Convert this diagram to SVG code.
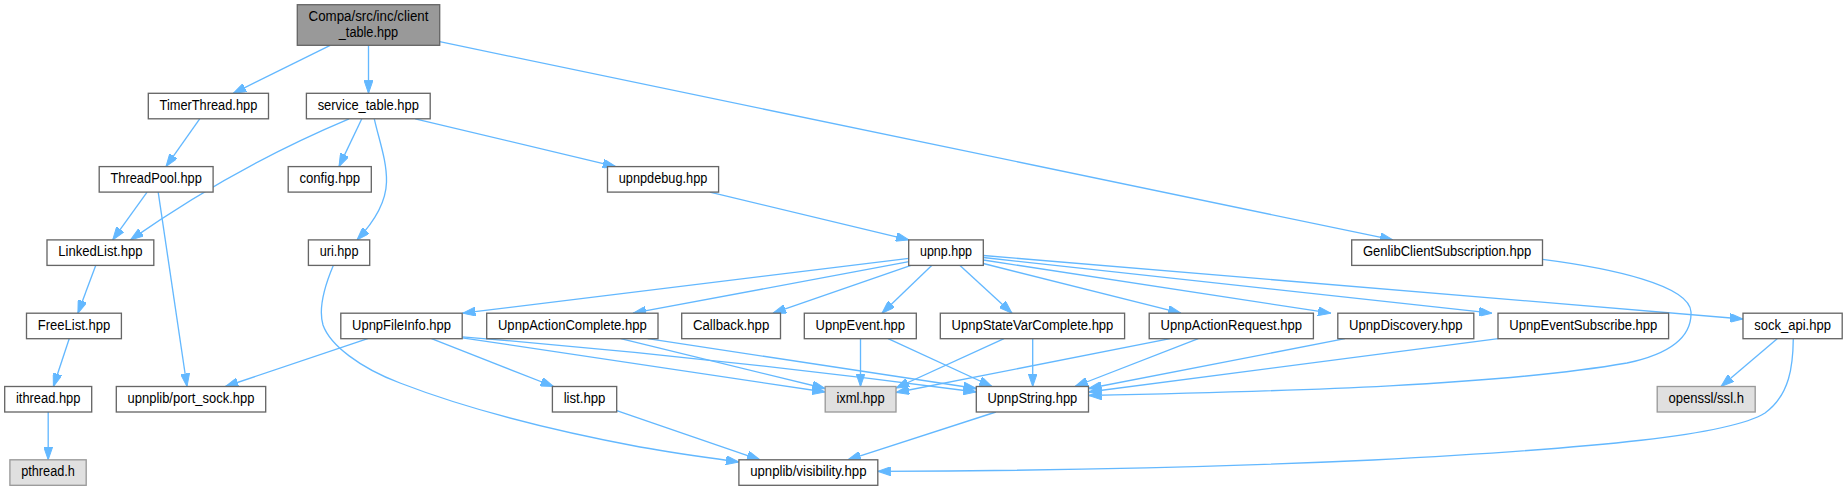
<svg xmlns="http://www.w3.org/2000/svg" width="1847" height="491" viewBox="0 0 1847 491">
<style>
.n rect{fill:#ffffff;stroke:#666666;stroke-width:1.33}
.n.root rect{fill:#999999;stroke:#666666}
.n.ext rect{fill:#e0e0e0;stroke:#999999}
.n text{font-family:"Liberation Sans",Arial,Helvetica,sans-serif;font-size:14px;fill:#000000;text-anchor:middle}
.e path{fill:none;stroke:#63b8ff;stroke-width:1.33;marker-end:url(#ah)}
</style>
<defs>
<marker id="ah" viewBox="0 0 13 9" refX="13" refY="4.5" markerWidth="13" markerHeight="9" markerUnits="userSpaceOnUse" orient="auto">
<path d="M0,0 L13,4.5 L0,9 z" fill="#63b8ff" stroke="#63b8ff" stroke-width="1"/>
</marker>
</defs>
<rect width="1847" height="491" fill="#ffffff"/>
<g id="edges" class="e">
<path d="M330.2,45.3 L233.3,93.3"/>
<path d="M368.5,45.3 L368.5,93.3"/>
<path d="M439.7,41.7 L1393,239.9"/>
<path d="M199.7,118.8 L166,166.6"/>
<path d="M147.1,192.1 L112.7,239.9"/>
<path d="M158.2,192.1 L187,386.5"/>
<path d="M349.1,118.8 Q234.2,167 130.5,239.9"/>
<path d="M361.8,118.8 L339,166.6"/>
<path d="M374.3,118.8 C379,140 387,161 386.5,182 C386,202 375,221 357,239.9"/>
<path d="M415.2,118.8 L615.8,166.6"/>
<path d="M709.9,192.1 L908.9,239.9"/>
<path d="M95.7,265.4 L77.9,313.2"/>
<path d="M69.2,338.7 L53.4,386.5"/>
<path d="M48.2,412 L48.2,459.8"/>
<path d="M333.3,265.4 C325,285 318,308 323,325 C330,345 360,368 400,383 C470,410 560,432 640,447 C680,454 710,458 738.9,462"/>
<path d="M908.9,258.3 L462.5,313.2"/>
<path d="M908.9,261.7 L633,313.2"/>
<path d="M911,265.4 L773,313.2"/>
<path d="M931.7,265.4 L882,313.2"/>
<path d="M960,265.4 L1012,313.2"/>
<path d="M983.3,263.5 L1181,313.2"/>
<path d="M983.3,260 L1331,313.2"/>
<path d="M983.3,257.5 L1492,313.2"/>
<path d="M983.3,255.5 L1742.9,319"/>
<path d="M1542.5,259.3 C1610,268 1690,285 1691,312 C1692,340 1665,355 1627,363 C1500,385 1300,391 1088.5,395.5"/>
<path d="M1777.2,338.7 L1721,386.5"/>
<path d="M1793.3,338.7 C1793,365 1790,395 1765,413 C1730,435 1600,448 1373,460 C1200,468 1000,471 877.8,471.3"/>
<path d="M367.7,338.7 L225.4,386.5"/>
<path d="M431.5,338.7 L553.5,386.5"/>
<path d="M462.3,337.8 L825.2,392"/>
<path d="M462.3,336.8 Q720,358 976.3,392"/>
<path d="M620.7,338.7 L825.2,388.5"/>
<path d="M647.7,338.7 L976.3,388.5"/>
<path d="M860.5,338.7 L860.5,386.5"/>
<path d="M888.1,338.7 L992,386.5"/>
<path d="M1004,338.7 L896,388"/>
<path d="M1032.7,338.7 L1032.7,386.5"/>
<path d="M1170,338.7 L896.2,392.5"/>
<path d="M1198.3,338.7 L1075,386.5"/>
<path d="M1345,338.7 L1088.5,388.5"/>
<path d="M1498.3,338.7 L1088.5,392"/>
<path d="M616.7,410.7 L760,459.8"/>
<path d="M995.9,412 L847.9,459.8"/>
</g>
<g id="node_root" class="n root"><rect x="297.3" y="4.7" width="142.4" height="40.6"/><text x="368.5" y="21" textLength="119.8" lengthAdjust="spacingAndGlyphs">Compa/src/inc/client</text><text x="368.5" y="36.5" textLength="59.4" lengthAdjust="spacingAndGlyphs">_table.hpp</text></g>
<g id="node_TimerThread" class="n"><rect x="148.3" y="93.3" width="120.2" height="25.5"/><text x="208.4" y="109.8" textLength="97.7" lengthAdjust="spacingAndGlyphs">TimerThread.hpp</text></g>
<g id="node_service_table" class="n"><rect x="306.4" y="93.3" width="123.8" height="25.5"/><text x="368.3" y="109.8" textLength="101.3" lengthAdjust="spacingAndGlyphs">service_table.hpp</text></g>
<g id="node_ThreadPool" class="n"><rect x="99.2" y="166.6" width="113.9" height="25.5"/><text x="156.15" y="183.1" textLength="91.4" lengthAdjust="spacingAndGlyphs">ThreadPool.hpp</text></g>
<g id="node_config" class="n"><rect x="288.2" y="166.6" width="83.1" height="25.5"/><text x="329.75" y="183.1" textLength="60.6" lengthAdjust="spacingAndGlyphs">config.hpp</text></g>
<g id="node_upnpdebug" class="n"><rect x="607.5" y="166.6" width="111.1" height="25.5"/><text x="663.05" y="183.1" textLength="88.6" lengthAdjust="spacingAndGlyphs">upnpdebug.hpp</text></g>
<g id="node_LinkedList" class="n"><rect x="47" y="239.9" width="106.8" height="25.5"/><text x="100.4" y="256.4" textLength="84.3" lengthAdjust="spacingAndGlyphs">LinkedList.hpp</text></g>
<g id="node_uri" class="n"><rect x="308.4" y="239.9" width="61.3" height="25.5"/><text x="339.05" y="256.4" textLength="38.8" lengthAdjust="spacingAndGlyphs">uri.hpp</text></g>
<g id="node_upnp" class="n"><rect x="908.7" y="239.9" width="74.6" height="25.5"/><text x="946" y="256.4" textLength="52.1" lengthAdjust="spacingAndGlyphs">upnp.hpp</text></g>
<g id="node_Genlib" class="n"><rect x="1351.7" y="239.9" width="190.8" height="25.5"/><text x="1447.1" y="256.4" textLength="168.3" lengthAdjust="spacingAndGlyphs">GenlibClientSubscription.hpp</text></g>
<g id="node_FreeList" class="n"><rect x="26.5" y="313.2" width="94.9" height="25.5"/><text x="73.95" y="329.7" textLength="72.4" lengthAdjust="spacingAndGlyphs">FreeList.hpp</text></g>
<g id="node_UpnpFileInfo" class="n"><rect x="340.8" y="313.2" width="121.4" height="25.5"/><text x="401.5" y="329.7" textLength="98.9" lengthAdjust="spacingAndGlyphs">UpnpFileInfo.hpp</text></g>
<g id="node_UpnpActionComplete" class="n"><rect x="486.7" y="313.2" width="171.3" height="25.5"/><text x="572.35" y="329.7" textLength="148.8" lengthAdjust="spacingAndGlyphs">UpnpActionComplete.hpp</text></g>
<g id="node_Callback" class="n"><rect x="681.7" y="313.2" width="98.8" height="25.5"/><text x="731.1" y="329.7" textLength="76.3" lengthAdjust="spacingAndGlyphs">Callback.hpp</text></g>
<g id="node_UpnpEvent" class="n"><rect x="804.3" y="313.2" width="112" height="25.5"/><text x="860.3" y="329.7" textLength="89.5" lengthAdjust="spacingAndGlyphs">UpnpEvent.hpp</text></g>
<g id="node_UpnpStateVarComplete" class="n"><rect x="940.3" y="313.2" width="184.3" height="25.5"/><text x="1032.45" y="329.7" textLength="161.8" lengthAdjust="spacingAndGlyphs">UpnpStateVarComplete.hpp</text></g>
<g id="node_UpnpActionRequest" class="n"><rect x="1149.2" y="313.2" width="164.2" height="25.5"/><text x="1231.3" y="329.7" textLength="141.7" lengthAdjust="spacingAndGlyphs">UpnpActionRequest.hpp</text></g>
<g id="node_UpnpDiscovery" class="n"><rect x="1337.8" y="313.2" width="136" height="25.5"/><text x="1405.8" y="329.7" textLength="113.5" lengthAdjust="spacingAndGlyphs">UpnpDiscovery.hpp</text></g>
<g id="node_UpnpEventSubscribe" class="n"><rect x="1498" y="313.2" width="170.6" height="25.5"/><text x="1583.3" y="329.7" textLength="148.1" lengthAdjust="spacingAndGlyphs">UpnpEventSubscribe.hpp</text></g>
<g id="node_sock_api" class="n"><rect x="1743" y="313.2" width="99.2" height="25.5"/><text x="1792.6" y="329.7" textLength="76.7" lengthAdjust="spacingAndGlyphs">sock_api.hpp</text></g>
<g id="node_ithread" class="n"><rect x="4.7" y="386.5" width="87" height="25.5"/><text x="48.2" y="403" textLength="64.5" lengthAdjust="spacingAndGlyphs">ithread.hpp</text></g>
<g id="node_port_sock" class="n"><rect x="116.3" y="386.5" width="149.4" height="25.5"/><text x="191" y="403" textLength="126.9" lengthAdjust="spacingAndGlyphs">upnplib/port_sock.hpp</text></g>
<g id="node_list" class="n"><rect x="552.4" y="386.5" width="64.3" height="25.5"/><text x="584.55" y="403" textLength="41.8" lengthAdjust="spacingAndGlyphs">list.hpp</text></g>
<g id="node_ixml" class="n ext"><rect x="825.2" y="386.5" width="70.8" height="25.5"/><text x="860.6" y="403" textLength="48.3" lengthAdjust="spacingAndGlyphs">ixml.hpp</text></g>
<g id="node_UpnpString" class="n"><rect x="976.3" y="386.5" width="112.2" height="25.5"/><text x="1032.4" y="403" textLength="89.7" lengthAdjust="spacingAndGlyphs">UpnpString.hpp</text></g>
<g id="node_openssl" class="n ext"><rect x="1657.2" y="386.5" width="98" height="25.5"/><text x="1706.2" y="403" textLength="75.5" lengthAdjust="spacingAndGlyphs">openssl/ssl.h</text></g>
<g id="node_pthread" class="n ext"><rect x="9.9" y="459.8" width="76.3" height="25.5"/><text x="48.05" y="476.3" textLength="53.8" lengthAdjust="spacingAndGlyphs">pthread.h</text></g>
<g id="node_visibility" class="n"><rect x="738.9" y="459.8" width="138.9" height="25.5"/><text x="808.35" y="476.3" textLength="116.4" lengthAdjust="spacingAndGlyphs">upnplib/visibility.hpp</text></g>
</svg>
